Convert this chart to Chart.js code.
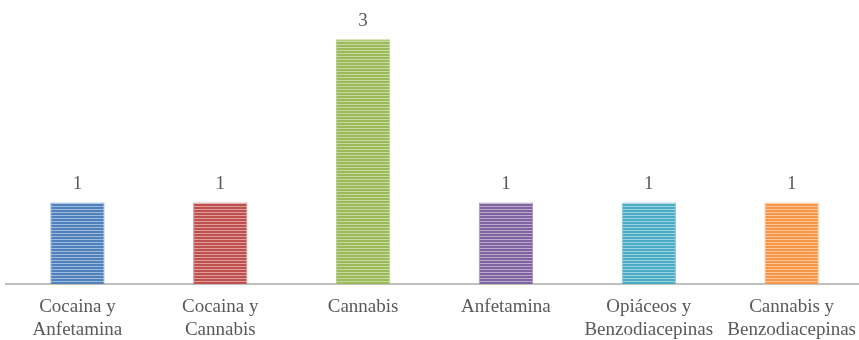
<!DOCTYPE html>
<html>
<head>
<meta charset="utf-8">
<script src="https://cdn.jsdelivr.net/npm/chart.js@4/dist/chart.umd.min.js"></script>
<style>
  html, body { margin: 0; padding: 0; background: #ffffff; overflow: hidden; }
  #wrap { width: 859px; height: 340px; position: relative; overflow: hidden; }
</style>
</head>
<body>
<div id="wrap"><canvas id="c" width="868" height="340"></canvas></div>
<script>
const categories = [
  ["Cocaina y", "Anfetamina"],
  ["Cocaina y", "Cannabis"],
  ["Cannabis"],
  ["Anfetamina"],
  ["Opiáceos y", "Benzodiacepinas"],
  ["Cannabis y", "Benzodiacepinas"]
];
const values = [1, 1, 3, 1, 1, 1];
const barColors = ["#4F81BD", "#C0504D", "#9BBB59", "#8064A2", "#4BACC6", "#F79646"];

function lighten(hex, f) {
  const n = parseInt(hex.slice(1), 16);
  const r = (n >> 16) & 255, g = (n >> 8) & 255, b = n & 255;
  const m = v => Math.round(v + (255 - v) * f);
  return `rgb(${m(r)},${m(g)},${m(b)})`;
}
function stripePattern(hex) {
  const pc = document.createElement('canvas');
  pc.width = 4; pc.height = 3;
  const p = pc.getContext('2d');
  p.fillStyle = hex;
  p.fillRect(0, 0, 4, 3);
  p.fillStyle = lighten(hex, 0.45);
  p.fillRect(0, 2, 4, 1);
  return p.createPattern(pc, 'repeat');
}
const ctx = document.getElementById('c').getContext('2d');
const patterns = barColors.map(stripePattern);

const valueLabels = {
  id: 'valueLabels',
  afterDatasetsDraw(chart) {
    const c = chart.ctx;
    c.save();
    c.font = '19px "Liberation Serif", "Times New Roman", serif';
    c.fillStyle = '#595959';
    c.textAlign = 'center';
    c.textBaseline = 'alphabetic';
    chart.getDatasetMeta(0).data.forEach((bar, i) => {
      c.fillText(String(values[i]), bar.x, bar.y - 13);
    });
    c.restore();
  }
};

new Chart(ctx, {
  type: 'bar',
  data: {
    labels: categories,
    datasets: [{
      data: values,
      backgroundColor: patterns,
      borderColor: barColors.map(c => lighten(c, 0.3)),
      borderWidth: 1,
      barPercentage: 0.38,
      categoryPercentage: 1
    }]
  },
  options: {
    responsive: false,
    animation: false,
    layout: { padding: { left: 6, right: 0, top: 0, bottom: 0 } },
    plugins: { legend: { display: false }, tooltip: { enabled: false } },
    scales: {
      x: {
        grid: { display: false, drawTicks: false },
        border: { display: true, color: '#BFBFBF', width: 2 },
        afterFit: (scale) => { scale.height = 56; },
        ticks: {
          color: '#595959',
          padding: 12,
          maxRotation: 0,
          autoSkip: false,
          font: { family: '"Liberation Serif", "Times New Roman", serif', size: 19, lineHeight: 1.2 }
        }
      },
      y: {
        display: false,
        min: 0,
        max: 3.48
      }
    }
  },
  plugins: [valueLabels]
});
</script>
</body>
</html>
